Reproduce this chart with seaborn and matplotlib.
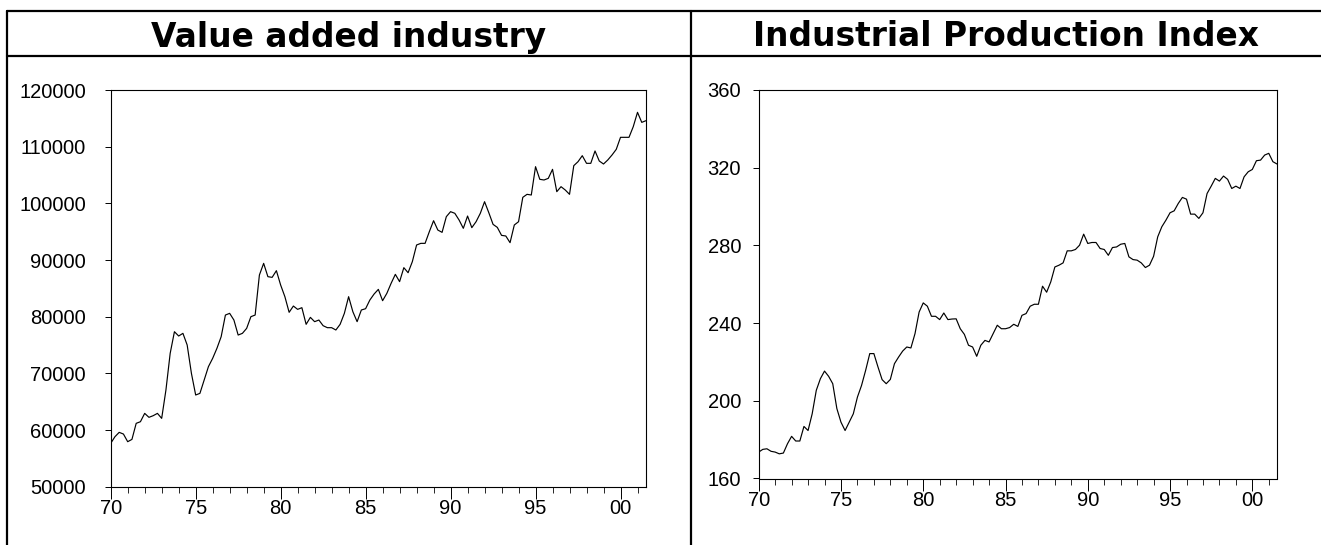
import numpy as np
import pandas as pd
import matplotlib
matplotlib.use('Agg')
import matplotlib.pyplot as plt
import seaborn as sns
from matplotlib.lines import Line2D
from matplotlib.ticker import FixedLocator, MultipleLocator

# quarterly data, 1970Q1 - 2001Q3
start_year = 1970

value_added = [
    57650, 58820, 59590, 59290,
    57940, 58350, 61180, 61470,
    62940, 62240, 62530, 62940,
    62060, 67060, 73530, 77350,
    76590, 77060, 75000, 70000,
    66180, 66470, 68820, 71180,
    72650, 74410, 76470, 80290,
    80590, 79410, 76760, 77060,
    77940, 80000, 80290, 87350,
    89410, 87060, 86940, 88120,
    85590, 83530, 80770, 81880,
    81290, 81590, 78650, 79880,
    79120, 79410, 78410, 78060,
    78060, 77650, 78650, 80590,
    83530, 80880, 79120, 81180,
    81410, 82940, 84000, 84820,
    82820, 84120, 85880, 87470,
    86180, 88650, 87760, 89710,
    92650, 92940, 92940, 95000,
    96940, 95290, 94880, 97650,
    98530, 98240, 97060, 95590,
    97760, 95710, 96760, 98240,
    100290, 98350, 96290, 95760,
    94350, 94240, 93060, 96180,
    96760, 101060, 101590, 101470,
    106470, 104240, 104120, 104410,
    106000, 102060, 102940, 102350,
    101590, 106650, 107350, 108410,
    107060, 107060, 109240, 107470,
    106940, 107650, 108530, 109530,
    111650, 111650, 111650, 113530,
    116060, 114290, 114590,
]

production_index = [
    173.6, 175.0, 175.3, 174.0,
    173.6, 172.7, 173.1, 177.9,
    181.7, 179.3, 179.3, 186.8,
    184.7, 193.3, 205.4, 211.4,
    215.3, 212.6, 208.8, 196.0,
    189.0, 184.7, 189.0, 193.3,
    201.9, 207.9, 215.7, 224.3,
    224.3, 217.4, 210.9, 208.8,
    211.0, 219.1, 222.5, 225.6,
    227.7, 227.2, 234.6, 245.7,
    250.4, 248.7, 243.5, 243.5,
    241.8, 245.2, 241.8, 242.1,
    242.2, 237.1, 234.2, 228.6,
    227.7, 222.9, 228.6, 231.1,
    230.3, 234.6, 238.9, 237.1,
    237.1, 237.7, 239.4, 238.3,
    244.0, 244.9, 248.7, 249.7,
    249.7, 259.0, 255.9, 261.2,
    268.9, 269.8, 271.0, 277.2,
    277.2, 277.9, 280.1, 285.8,
    281.0, 281.5, 281.5, 278.4,
    277.9, 274.9, 278.9, 279.2,
    280.6, 281.0, 274.1, 272.7,
    272.4, 271.0, 268.6, 269.8,
    274.4, 284.4, 289.6, 293.0,
    296.8, 297.8, 301.6, 304.7,
    303.8, 296.1, 296.1, 293.9,
    296.8, 306.7, 310.5, 314.5,
    313.1, 315.7, 314.0, 309.3,
    310.5, 309.3, 315.3, 317.9,
    319.1, 323.6, 323.9, 326.5,
    327.4, 323.1, 321.9,
]

titles = ['Value added industry', 'Industrial Production Index']
year_ticks = [1970, 1975, 1980, 1985, 1990, 1995, 2000]
year_labels = ['70', '75', '80', '85', '90', '95', '00']
left_yticks = [50000, 60000, 70000, 80000, 90000, 100000, 110000, 120000]
right_yticks = [160, 200, 240, 280, 320, 360]

df = pd.DataFrame({
    'year': start_year + np.arange(len(value_added)) / 4,
    'value_added': value_added,
    'production_index': production_index,
})

sns.set_style('white')
plt.rcParams['font.family'] = ['Liberation Sans', 'DejaVu Sans']

W, H = 1321, 545
fig = plt.figure(figsize=(W / 100, H / 100), dpi=100)


def px_axes(x0, y0, x1, y1):
    return fig.add_axes([x0 / W, 1 - y1 / H, (x1 - x0) / W, (y1 - y0) / H])


ax1 = px_axes(110.7, 90, 646, 486.7)
ax2 = px_axes(758.7, 90, 1277, 478.5)

panels = [
    (ax1, 'value_added', left_yticks, 13.5),
    (ax2, 'production_index', right_yticks, 8.4),
]

for ax, col, yticks, ypad in panels:
    sns.lineplot(data=df, x='year', y=col, ax=ax, color='black', linewidth=0.85)
    ax.set_xlim(df['year'].iloc[0], df['year'].iloc[-1])
    ax.set_ylim(yticks[0], yticks[-1])
    ax.xaxis.set_major_locator(FixedLocator(year_ticks))
    ax.set_xticklabels(year_labels)
    ax.xaxis.set_minor_locator(MultipleLocator(1))
    ax.set_yticks(yticks)
    ax.set_yticklabels([str(v) for v in yticks])
    ax.set_xlabel('')
    ax.set_ylabel('')
    for s in ax.spines.values():
        s.set_visible(True)
        s.set_color('black')
        s.set_linewidth(0.8)
    ax.tick_params(axis='x', which='major', direction='out', length=8.4, width=0.7,
                   pad=0.5, labelsize=14.5, colors='black', bottom=True)
    ax.tick_params(axis='x', which='minor', direction='out', length=4.3, width=0.7,
                   bottom=True)
    ax.tick_params(axis='y', which='major', direction='out', length=4.3, width=0.7,
                   pad=ypad, labelsize=14.5, colors='black', left=True)
    ax.grid(False)

# table-like frame with title row
lw = 1.6
frame = [
    ((7, W), (11, 11)),
    ((7, W), (56, 56)),
    ((7, 7), (11, H)),
    ((691, 691), (11, H)),
]
for xs, ys in frame:
    fig.add_artist(Line2D([x / W for x in xs], [1 - y / H for y in ys],
                          transform=fig.transFigure, color='black', linewidth=lw))

fig.text(349 / W, 1 - 46.5 / H, titles[0], ha='center', va='baseline', color='black',
         fontsize=23.7, fontweight='bold', family='DejaVu Sans')
fig.text(1006 / W, 1 - 46.5 / H, titles[1], ha='center', va='baseline', color='black',
         fontsize=23.7, fontweight='bold', family='DejaVu Sans')

fig.savefig('out.png', dpi=100)
